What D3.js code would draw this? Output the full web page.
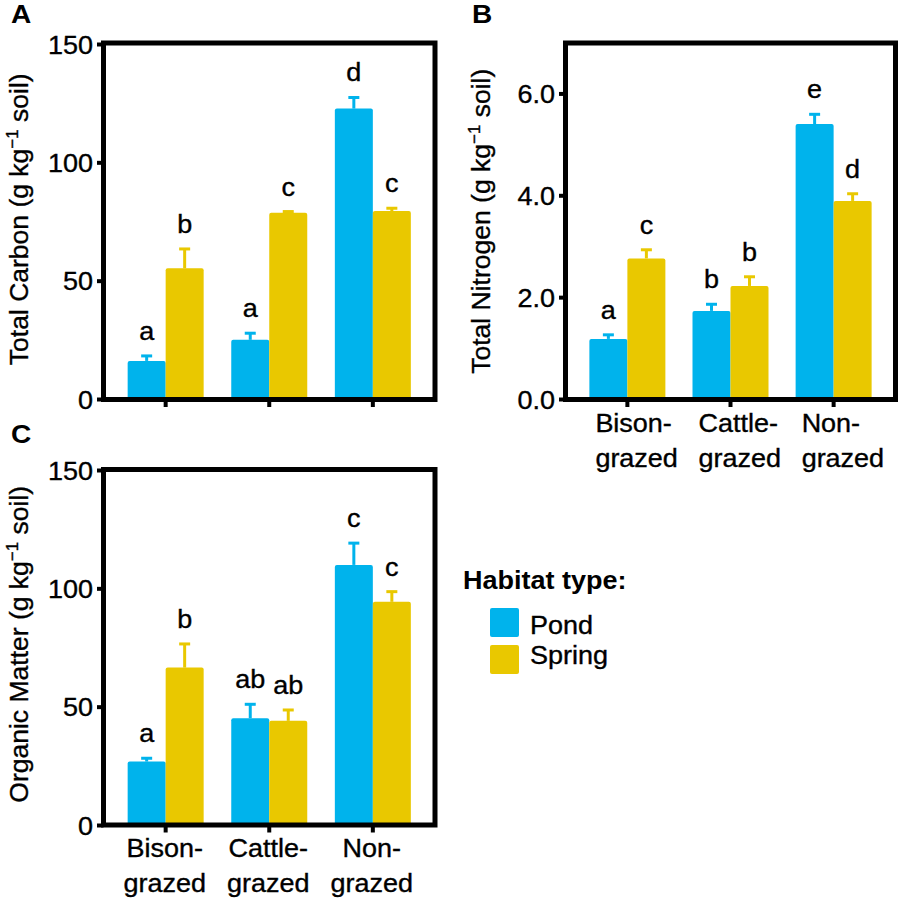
<!DOCTYPE html>
<html>
<head>
<meta charset="utf-8">
<script src="https://cdn.jsdelivr.net/npm/d3@7"></script>
<style>
  html, body { margin: 0; padding: 0; background: #fff; }
  svg { display: block; }
</style>
</head>
<body>
<svg id="chart" width="900" height="899"></svg>
<script>
// ---------------- DATA ----------------
const groups = ["Bison-grazed", "Cattle-grazed", "Non-grazed"];
const groupLines = [["Bison-", "grazed"], ["Cattle-", "grazed"], ["Non-", "grazed"]];
const habitats = ["Pond", "Spring"];
const habitatColors = ["#00B3EC", "#E9C800"];

// Panel A: Total Carbon (g kg-1 soil)
const carbonPond = [16.1, 25.0, 122.7];
const carbonPondErr = [2.1, 2.8, 4.7];
const carbonSpring = [55.2, 78.7, 79.4];
const carbonSpringErr = [8.2, 0.5, 1.2];
const carbonPondLetters = ["a", "a", "d"];
const carbonSpringLetters = ["b", "c", "c"];
const carbonTicks = [0, 50, 100, 150];

// Panel B: Total Nitrogen (g kg-1 soil)
const nitrogenPond = [1.18, 1.73, 5.40];
const nitrogenPondErr = [0.08, 0.13, 0.19];
const nitrogenSpring = [2.76, 2.22, 3.89];
const nitrogenSpringErr = [0.17, 0.18, 0.14];
const nitrogenPondLetters = ["a", "b", "e"];
const nitrogenSpringLetters = ["c", "b", "d"];
const nitrogenTicks = [0, 2, 4, 6];

// Panel C: Organic Matter (g kg-1 soil)
const omPond = [26.8, 45.1, 109.9];
const omPondErr = [1.4, 5.9, 9.2];
const omSpring = [66.5, 44.0, 94.3];
const omSpringErr = [10.0, 4.6, 4.3];
const omPondLetters = ["a", "ab", "c"];
const omSpringLetters = ["b", "ab", "c"];
const omTicks = [0, 50, 100, 150];

// ---------------- STYLE / LAYOUT ----------------
const FONT = "'Liberation Sans', Arial, Helvetica, sans-serif";
const FS = 25;        // main font size
const SX = 1.08;      // horizontal stretch of text in the reference
const svg = d3.select("#chart");

function stretchedText(parent, x, y, str, anchor, opts = {}) {
  const t = parent.append("text")
    .attr("transform", `translate(${x},${y}) scale(${SX},1)`)
    .attr("text-anchor", anchor)
    .attr("font-family", FONT)
    .attr("font-size", opts.size || FS)
    .attr("font-weight", opts.weight || "normal")
    .attr("fill", "#000")
    .attr("stroke", "#000").attr("stroke-width", opts.weight === "bold" ? 0 : 0.35)
    .text(str);
  return t;
}

function drawPanel(cfg) {
  const g = svg.append("g");
  const x0 = d3.scaleBand().domain(groups).range([cfg.left, cfg.right])
    .paddingInner(0).paddingOuter(0.1);
  const x1 = d3.scaleBand().domain(habitats).range([-38, 38]);
  const y = d3.scaleLinear().domain(cfg.domain).range(cfg.yRange);

  const series = [
    { h: "Pond", vals: cfg.pond, errs: cfg.pondErr, letters: cfg.pondLetters, color: habitatColors[0] },
    { h: "Spring", vals: cfg.spring, errs: cfg.springErr, letters: cfg.springLetters, color: habitatColors[1] }
  ];

  series.forEach(s => {
    groups.forEach((grp, i) => {
      const c = x0(grp) + x0.bandwidth() / 2;
      const bx = c + x1(s.h);
      const bw = x1.bandwidth();
      const v = s.vals[i], e = s.errs[i];
      const cx = bx + bw / 2;
      g.append("line").attr("x1", cx).attr("x2", cx)
        .attr("y1", y(v)).attr("y2", y(v + e))
        .attr("stroke", s.color).attr("stroke-width", 3);
      g.append("line").attr("x1", cx - 5.5).attr("x2", cx + 5.5)
        .attr("y1", y(v + e)).attr("y2", y(v + e))
        .attr("stroke", s.color).attr("stroke-width", 3);
      g.append("rect")
        .attr("x", bx).attr("width", bw)
        .attr("y", y(v)).attr("height", y(0) - y(v) + 2)
        .attr("rx", 2)
        .attr("fill", s.color);
      stretchedText(g, cx, y(v + e) - 16, s.letters[i], "middle");
    });
  });

  // Left axis (ticks)
  const yAxis = d3.axisLeft(y).tickValues(cfg.ticks).tickSize(6.5).tickFormat("");
  const ya = g.append("g").attr("transform", `translate(${cfg.left},0)`).call(yAxis);
  ya.select(".domain").remove();
  ya.selectAll(".tick line").attr("stroke", "#000").attr("stroke-width", 4);
  ya.selectAll(".tick").each(function (d) {
    stretchedText(d3.select(this), -10.5, 9, cfg.fmt(d), "end");
  });

  // Bottom axis (ticks)
  const xAxis = d3.axisBottom(x0).tickSize(7.5).tickFormat("");
  const xa = g.append("g").attr("transform", `translate(0,${cfg.bottom})`).call(xAxis);
  xa.select(".domain").remove();
  xa.selectAll(".tick line").attr("stroke", "#000").attr("stroke-width", 4);
  if (cfg.xLabels) {
    xa.selectAll(".tick").each(function (d, i) {
      const tk = d3.select(this);
      groupLines[i].forEach((ln, j) => {
        stretchedText(tk, cfg.xLabelDx, 32 + j * 35, ln, cfg.xLabelAnchor);
      });
    });
  }

  // Box
  g.append("rect")
    .attr("x", cfg.left).attr("y", cfg.top)
    .attr("width", cfg.right - cfg.left).attr("height", cfg.bottom - cfg.top)
    .attr("fill", "none").attr("stroke", "#000").attr("stroke-width", 5);

  // Y title (rotated)
  const cy = (cfg.top + cfg.bottom) / 2 + cfg.titleDy;
  const tt = g.append("text")
    .attr("transform", `translate(${cfg.titleX},${cy}) rotate(-90)`)
    .attr("text-anchor", "middle")
    .attr("font-family", FONT).attr("font-size", 26.5).attr("fill", "#000")
    .attr("stroke", "#000").attr("stroke-width", 0.35);
  tt.append("tspan").text(cfg.title + " (g kg");
  tt.append("tspan").attr("dy", -10).attr("font-size", 17).text("\u22121");
  tt.append("tspan").attr("dy", 10).text(" soil)");

  // Panel letter
  stretchedText(svg, cfg.letterX, cfg.letterY, cfg.letter, "start", { size: 26, weight: "bold" });
}

drawPanel({
  letter: "A", letterX: 11, letterY: 23,
  left: 103.5, right: 435, top: 43, bottom: 399.5,
  domain: [0, 150], yRange: [399, 44], ticks: carbonTicks, fmt: d3.format("d"),
  pond: carbonPond, pondErr: carbonPondErr, spring: carbonSpring, springErr: carbonSpringErr,
  pondLetters: carbonPondLetters, springLetters: carbonSpringLetters,
  title: "Total Carbon", titleX: 28, titleDy: -2,
  xLabels: false
});

drawPanel({
  letter: "B", letterX: 472, letterY: 23,
  left: 565.5, right: 895.5, top: 43, bottom: 399.5,
  domain: [0, 7], yRange: [399, 42.5], ticks: nitrogenTicks, fmt: d3.format(".1f"),
  pond: nitrogenPond, pondErr: nitrogenPondErr, spring: nitrogenSpring, springErr: nitrogenSpringErr,
  pondLetters: nitrogenPondLetters, springLetters: nitrogenSpringLetters,
  title: "Total Nitrogen", titleX: 490, titleDy: 0,
  xLabels: true, xLabelDx: -32, xLabelAnchor: "start"
});

drawPanel({
  letter: "C", letterX: 11, letterY: 443,
  left: 103.5, right: 435, top: 469.5, bottom: 825,
  domain: [0, 150], yRange: [825, 470], ticks: omTicks, fmt: d3.format("d"),
  pond: omPond, pondErr: omPondErr, spring: omSpring, springErr: omSpringErr,
  pondLetters: omPondLetters, springLetters: omSpringLetters,
  title: "Organic Matter", titleX: 28, titleDy: -3,
  xLabels: true, xLabelDx: -1, xLabelAnchor: "middle"
});

// ---------------- LEGEND ----------------
const leg = svg.append("g");
stretchedText(leg, 463, 589, "Habitat type:", "start", { size: 25, weight: "bold" });
habitats.forEach((h, i) => {
  leg.append("rect")
    .attr("x", 490).attr("y", 608 + i * 37)
    .attr("width", 29).attr("height", 29).attr("rx", 2)
    .attr("fill", habitatColors[i]);
  stretchedText(leg, 530, 634 + i * 29.5, h, "start");
});
</script>
</body>
</html>
